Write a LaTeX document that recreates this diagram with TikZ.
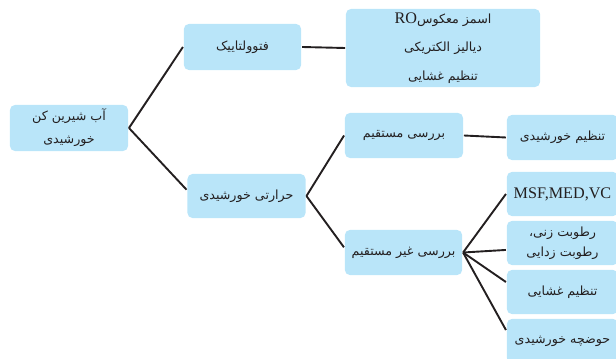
\documentclass[tikz,border=0pt]{standalone}
\usepackage{fontspec}
\setmainfont{Liberation Serif}
\newfontfamily\farsi[Script=Arabic]{DejaVu Sans}
\TeXXeTstate=1
\newcommand{\fa}[1]{{\farsi\beginR #1\endR}}
\definecolor{boxblue}{HTML}{B9E5F9}
\definecolor{inkgray}{HTML}{231F20}
\definecolor{linegray}{HTML}{231F20}

\begin{document}
\begin{tikzpicture}[x=0.025cm, y=-0.025cm, line width=1.35pt, draw=linegray,
        boite/.style={fill=boxblue, rounded corners=3.5pt, align=center, text=inkgray, inner sep=1pt,
            minimum width=2.95cm, minimum height=1.125cm, font=\fontsize{9}{16.5}\selectfont},
        feuille/.style={boite, minimum width=2.78cm, minimum height=1.1cm}]
        \useasboundingbox (0,0) rectangle (616,359);

        \node[boite, minimum height=1.15cm] (A) at (69, 128) {\fa{آب شیرین کن}\\\fa{خورشیدی}};
        \node[boite, minimum width=2.93cm, minimum height=1.15cm] (B) at (242.5, 47) {\fa{فتوولتاییک}};
        \node[boite, minimum width=4.85cm, minimum height=1.95cm, font=\fontsize{9}{20.5}\selectfont] (C) at (443, 48)
            {\fa{اسمز معکوس\beginL{\fontsize{11.5}{20.5}\selectfont\rmfamily RO}\endL}\\\fa{دیالیز الکتریکی}\\\fa{تنظیم غشایی}};
        \node[boite, minimum height=1.1cm] (D) at (246.5, 196) {\fa{حرارتی خورشیدی}};
        \node[boite] (E) at (404, 135.5) {\fa{بررسی مستقیم}};
        \node[feuille, minimum height=1.125cm] (F) at (562.5, 137.5) {\fa{تنظیم خورشیدی}};
        \node[boite, minimum width=2.93cm] (G) at (403.5, 252.5) {\fa{بررسی غیر مستقیم}};
        \node[feuille, font=\fontsize{11.5}{14}\selectfont] (H) at (562.5, 194) {MSF,MED,VC};
        \node[feuille, font=\fontsize{9}{14.5}\selectfont] (I) at (562.5, 243) {\fa{رطوبت زنی،}\\\fa{رطوبت زدایی}};
        \node[feuille] (J) at (562.5, 292) {\fa{تنظیم غشایی}};
        \node[feuille] (K) at (562.5, 341) {\fa{حوضچه خورشیدی}};

        \draw (A.east) -- (B.west);
        \draw (A.east) -- (D.174);
        \draw (B.east) -- (C.west);
        \draw (D.east) -- (E.west);
        \draw (D.east) -- (G.175);
        \draw (E.east) -- (F.west);
        \draw (G.east) -- (H.west);
        \draw (G.east) -- (I.187);
        \draw (G.east) -- (J.170);
        \draw (G.east) -- (K.169);
    \end{tikzpicture}
\end{document}
